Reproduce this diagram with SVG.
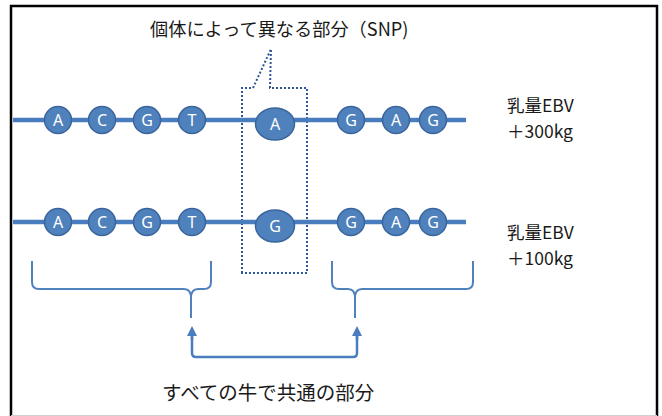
<svg xmlns="http://www.w3.org/2000/svg" width="662" height="416" viewBox="0 0 662 416">
<style>
.strand{stroke:#4a7dbd;stroke-width:4.5;fill:none}
.base{fill:#4f81bd;stroke:#3a659c;stroke-width:1.5}
.bl{font-family:"Noto Sans","Liberation Sans",sans-serif;font-size:16px;fill:#ffffff;text-anchor:middle}
.lbl{font-family:"Noto Sans CJK JP","Noto Sans",sans-serif;fill:#1a1a1a}
.brace{stroke:#4f81bd;stroke-width:2;fill:none}
.dots{stroke:#2f5597;stroke-width:2;stroke-dasharray:2 2;fill:none}
.conn{stroke:#4a7dbd;stroke-width:2.5;fill:none}
</style>
<defs>
<marker id="ah" viewBox="0 0 10 10" refX="5" refY="5" markerWidth="10" markerHeight="10" markerUnits="userSpaceOnUse" orient="auto">
<path d="M0,0 L10,5 L0,10 Z" fill="#4a7dbd"/>
</marker>
</defs>
<rect x="0" y="0" width="662" height="416" fill="#ffffff"/>
<path d="M11,416 L11,6 L657,6 L657,416" fill="none" stroke="#000" stroke-width="2.5"/>
<line x1="11" y1="415.5" x2="657" y2="415.5" stroke="#d0d0d0" stroke-width="1"/>

<g id="title">
<text class="lbl" x="150" y="36" font-size="18.2">個体によって異なる部分（SNP)</text>
</g>

<g id="snp-box">
<path class="dots" d="M242,273 L242,88 L253,88 L271,49 L270,88 L307,88 L307,273 Z"/>
</g>

<g id="strand1">
<line class="strand" x1="13" y1="120" x2="466" y2="120"/>
<circle class="base" cx="58" cy="120" r="13.5"/><text class="bl" x="58" y="125.5">A</text>
<circle class="base" cx="102" cy="120" r="13.5"/><text class="bl" x="102" y="125.5">C</text>
<circle class="base" cx="147" cy="120" r="13.5"/><text class="bl" x="147" y="125.5">G</text>
<circle class="base" cx="192" cy="120" r="13.5"/><text class="bl" x="192" y="125.5">T</text>
<ellipse class="base" cx="275" cy="124" rx="19.5" ry="16"/><text class="bl" x="275" y="129.5">A</text>
<circle class="base" cx="351" cy="120" r="13.5"/><text class="bl" x="351" y="125.5">G</text>
<circle class="base" cx="396" cy="120" r="13.5"/><text class="bl" x="396" y="125.5">A</text>
<circle class="base" cx="433" cy="120" r="13.5"/><text class="bl" x="433" y="125.5">G</text>
</g>

<g id="strand2">
<line class="strand" x1="13" y1="222" x2="466" y2="222"/>
<circle class="base" cx="58" cy="222" r="13.5"/><text class="bl" x="58" y="227.5">A</text>
<circle class="base" cx="102" cy="222" r="13.5"/><text class="bl" x="102" y="227.5">C</text>
<circle class="base" cx="147" cy="222" r="13.5"/><text class="bl" x="147" y="227.5">G</text>
<circle class="base" cx="192" cy="222" r="13.5"/><text class="bl" x="192" y="227.5">T</text>
<ellipse class="base" cx="275" cy="226" rx="19.5" ry="16"/><text class="bl" x="275" y="231.5">G</text>
<circle class="base" cx="351" cy="222" r="13.5"/><text class="bl" x="351" y="227.5">G</text>
<circle class="base" cx="396" cy="222" r="13.5"/><text class="bl" x="396" y="227.5">A</text>
<circle class="base" cx="433" cy="222" r="13.5"/><text class="bl" x="433" y="227.5">G</text>
</g>

<g id="label1">
<text class="lbl" x="507" y="112" font-size="17.5">乳量EBV</text>
<text class="lbl" x="507" y="138" font-size="17.5">＋300kg</text>
</g>
<g id="label2">
<text class="lbl" x="507" y="239" font-size="17.5">乳量EBV</text>
<text class="lbl" x="507" y="265" font-size="17.5">＋100kg</text>
</g>

<g id="brace-left">
<path class="brace" d="M32,261 L32,282 Q32,289 39,289 L184,289 Q191,289 191,298 L191,318 M211,261 L211,282 Q211,289 204,289 L198,289 Q191,289 191,298"/>
</g>
<g id="brace-right">
<path class="brace" d="M332,261 L332,282 Q332,289 339,289 L348,289 Q355,289 355,298 L355,318 M473,261 L473,282 Q473,289 466,289 L362,289 Q355,289 355,298"/>
</g>

<g id="connectors">
<path class="conn" d="M192,336 L192,353 Q192,357 196,357 L353,357 Q357,357 357,353 L357,336"/>
<line class="conn" x1="192" y1="340" x2="192" y2="331" marker-end="url(#ah)"/>
<line class="conn" x1="357" y1="340" x2="357" y2="331" marker-end="url(#ah)"/>
</g>

<g id="common-label">
<text class="lbl" x="162" y="400" font-size="19.5">すべての牛で共通の部分</text>
</g>
</svg>
